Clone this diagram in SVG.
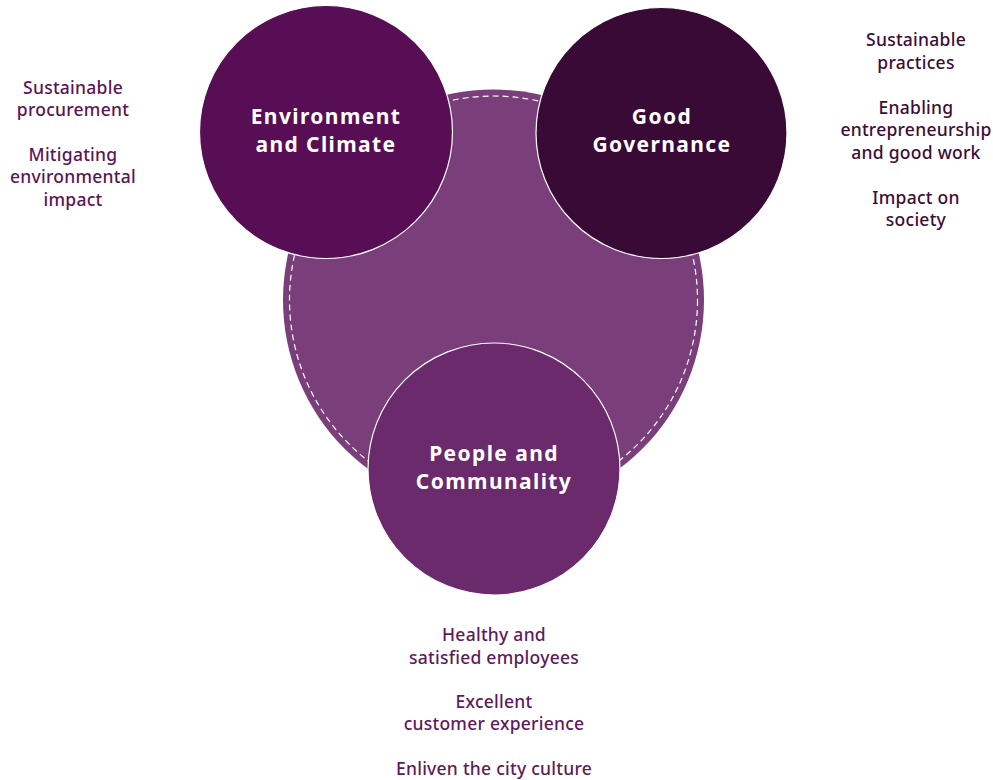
<svg xmlns="http://www.w3.org/2000/svg" width="993" height="780" viewBox="0 0 993 780">
  <style>
    .pillar { stroke: #ffffff; stroke-width: 1.2; }
    .title { font-family: "Noto Sans", "Liberation Sans", sans-serif; font-weight: 700; font-size: 21px; letter-spacing: 1.4px; fill: #ffffff; text-anchor: middle; }
    .note { font-family: "Noto Sans", "Liberation Sans", sans-serif; font-weight: 500; font-size: 17.5px; letter-spacing: 0.25px; text-anchor: middle; }
    .env-note { fill: #5a1558; }
    .gov-note { fill: #3c0d39; }
    .ppl-note { fill: #5e1a5d; }
  </style>
  <rect width="993" height="780" fill="#ffffff"/>

  <!-- shared core circle -->
  <g id="core">
    <circle cx="493.5" cy="300" r="210.5" fill="#7a3e7a"/>
    <circle cx="493.5" cy="300" r="204" fill="none" stroke="#ffffff" stroke-width="1.2" stroke-dasharray="6 4"/>
  </g>

  <g id="environment">
    <circle class="pillar" cx="326" cy="132" r="126.5" fill="#570e55"/>
    <text class="title" x="326" y="124">Environment</text>
    <text class="title" x="326" y="152">and Climate</text>
  </g>

  <g id="governance">
    <circle class="pillar" cx="661.5" cy="133" r="125.5" fill="#380a35"/>
    <text class="title" x="662" y="124">Good</text>
    <text class="title" x="662" y="152">Governance</text>
  </g>

  <g id="people">
    <circle class="pillar" cx="494" cy="469" r="126" fill="#6a2a6c"/>
    <text class="title" x="494" y="461">People and</text>
    <text class="title" x="494" y="489">Communality</text>
  </g>

  <g id="environment-notes" class="note env-note">
    <text x="73" y="94">Sustainable</text>
    <text x="73" y="116">procurement</text>
    <text x="73" y="161">Mitigating</text>
    <text x="73" y="183">environmental</text>
    <text x="73" y="206">impact</text>
  </g>

  <g id="governance-notes" class="note gov-note">
    <text x="916" y="46">Sustainable</text>
    <text x="916" y="69">practices</text>
    <text x="916" y="114">Enabling</text>
    <text x="916" y="136">entrepreneurship</text>
    <text x="916" y="159">and good work</text>
    <text x="916" y="204">Impact on</text>
    <text x="916" y="226">society</text>
  </g>

  <g id="people-notes" class="note ppl-note">
    <text x="494" y="641">Healthy and</text>
    <text x="494" y="664">satisfied employees</text>
    <text x="494" y="708">Excellent</text>
    <text x="494" y="730">customer experience</text>
    <text x="494" y="775">Enliven the city culture</text>
  </g>
</svg>
